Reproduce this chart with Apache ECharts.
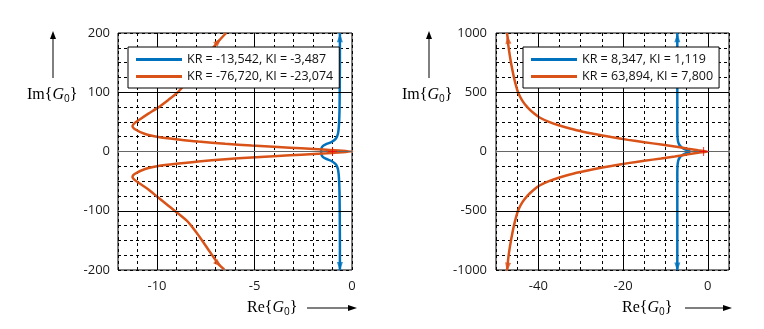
<!DOCTYPE html>
<html>
<head>
<meta charset="utf-8">
<script src="https://cdn.jsdelivr.net/npm/echarts@6/dist/echarts.min.js"></script>
<style>
  html, body { margin: 0; padding: 0; background: #fff; }
  #chart { width: 764px; height: 329px; }
</style>
</head>
<body>
<div id="chart"></div>
<script>
// ---- Nyquist curves of the open loop G0 for two controller settings per panel ----

// Left panel: negative gains
const leftBlueName = 'KR = -13,542, KI = -3,487';
const leftBlueRe = [-0.62, -0.62, -0.62, -0.63, -0.64, -0.66, -0.68, -0.72, -0.82, -1.05, -1.35, -1.50, -1.56, -1.58, -1.58,
                    -1.58, -1.56, -1.50, -1.35, -1.05, -0.82, -0.72, -0.68, -0.66, -0.64, -0.63, -0.62, -0.62, -0.62];
const leftBlueIm = [200, 192, 150, 100, 70, 50, 40, 30, 22, 16, 12, 9, 6, 3, 0,
                    -3, -6, -9, -12, -16, -22, -30, -40, -50, -70, -100, -150, -194, -200];

const leftOrangeName = 'KR = -76,720, KI = -23,074';
const leftOrangeRe = [-6.45, -6.85, -7.44, -7.95, -8.46, -8.90, -9.42, -9.95, -10.44, -10.85, -11.15, -11.26, -11.15, -10.61,
                      -9.93, -8.90, -7.88, -6.50, -5.15, -3.80, -2.60, -1.30, 0,
                      -1.30, -2.60, -3.80, -5.15, -6.50, -7.88, -8.90, -9.93, -10.61, -11.15, -11.26, -11.15, -10.85,
                      -10.44, -10.00, -9.40, -8.46, -7.95, -7.44, -6.85, -6.55];
const leftOrangeIm = [200, 186, 162, 140, 118, 101, 87, 74, 64, 55, 48, 43, 38, 29.5,
                      24.5, 20.3, 16.8, 13.2, 10, 7.5, 5.3, 2.8, 0,
                      -2.8, -5.3, -7.5, -10, -13.2, -16.8, -20.3, -24.5, -29.5, -38, -43, -48, -55,
                      -64, -76, -92, -117, -138, -162, -190, -199];

// Right panel: positive gains
const rightBlueName = 'KR = 8,347, KI = 1,119';
const rightBlueRe = [-7.2, -7.2, -7.2, -7.2, -7.2, -7.2, -7.15, -7.0, -6.7, -6.2, -5.5, -4.8, -4.3, -4.2,
                     -4.3, -4.8, -5.5, -6.2, -6.7, -7.0, -7.15, -7.2, -7.2, -7.2, -7.2, -7.2, -7.2];
const rightBlueIm = [1000, 960, 800, 600, 400, 200, 120, 80, 55, 35, 20, 10, 4, 0,
                     -4, -10, -20, -35, -55, -80, -120, -200, -400, -600, -800, -975, -1000];

const rightOrangeName = 'KR = 63,894, KI = 7,800';
const rightOrangeRe = [-47.4, -47.2, -47.1, -46.7, -46.2, -45.6, -44.8, -43.8, -42.5, -41.0, -39.6, -37.5, -35.0, -31.0,
                       -27.0, -22.8, -18.8, -15.0, -11.0, -7.8, -4.7, -2.3, 0,
                       -2.3, -4.7, -7.8, -11.0, -15.0, -18.8, -22.8, -27.0, -31.0, -35.0, -37.5, -39.6, -41.0, -42.5,
                       -43.8, -44.8, -45.6, -46.2, -46.7, -47.1, -47.3, -47.4];
const rightOrangeIm = [1000, 945, 900, 800, 700, 600, 500, 430, 370, 320, 285, 250, 220, 180,
                       150, 122, 98, 78, 59, 42, 24, 11, 0,
                       -11, -24, -42, -59, -78, -98, -122, -150, -180, -220, -250, -285, -320, -370,
                       -430, -500, -600, -700, -800, -900, -975, -1000];

// Critical point
const criticalPoint = [-1, 0];

// Axis ranges and labelled ticks
const leftXRange = [-12, 0];     const leftXLabels = [-10, -5, 0];
const leftYRange = [-200, 200];  const leftYLabels = [-200, -100, 0, 100, 200];
const rightXRange = [-50, 5];    const rightXLabels = [-40, -20, 0];
const rightYRange = [-1000, 1000]; const rightYLabels = [-1000, -500, 0, 500, 1000];
// Solid major grid lines
const leftMajorX = [-10, -5];    const leftMajorY = [-100, 100];
const rightMajorX = [-40, -20, 0]; const rightMajorY = [-500, 500];

// Direction arrows: point index on the curve and the neighbour it points to
const arrowMarks = [
  { curve: 'lo', at: 1, to: 0 }, { curve: 'lo', at: 42, to: 43 },
  { curve: 'lb', at: 1, to: 0 }, { curve: 'lb', at: 27, to: 28 },
  { curve: 'ro', at: 1, to: 0 }, { curve: 'ro', at: 43, to: 44 },
  { curve: 'rb', at: 1, to: 0 }, { curve: 'rb', at: 25, to: 26 }
];

const BLUE = '#0072BD';
const ORANGE = '#D95319';
const FONT = 'Open Sans';

const zip = (re, im) => re.map((v, i) => [v, im[i]]);
const curves = {
  lb: { pts: zip(leftBlueRe, leftBlueIm), grid: 0, color: BLUE },
  lo: { pts: zip(leftOrangeRe, leftOrangeIm), grid: 0, color: ORANGE },
  rb: { pts: zip(rightBlueRe, rightBlueIm), grid: 1, color: BLUE },
  ro: { pts: zip(rightOrangeRe, rightOrangeIm), grid: 1, color: ORANGE }
};

const dashed = { show: true, lineStyle: { color: '#000', width: 1, type: [3, 3] } };
const labelStyle = { color: '#1a1a1a', fontFamily: FONT, fontSize: 13 };

function valueAxis(gridIndex, range, step, labels, margin) {
  return {
    type: 'value', gridIndex, min: range[0], max: range[1], interval: step,
    axisLine: { show: false }, axisTick: { show: false },
    splitLine: dashed,
    axisLabel: Object.assign({ margin, formatter: v => labels.includes(v) ? String(v) : '' }, labelStyle)
  };
}

function majorLines(gridIndex, xs, ys) {
  return {
    type: 'line', xAxisIndex: gridIndex, yAxisIndex: gridIndex, data: [], z: 1, silent: true,
    markLine: {
      silent: true, symbol: 'none', label: { show: false },
      lineStyle: { color: '#000', width: 1, type: 'solid' },
      animation: false,
      data: xs.map(v => ({ xAxis: v })).concat(ys.map(v => ({ yAxis: v })))
        .concat([{ yAxis: 0, lineStyle: { color: '#666', width: 1, type: 'solid' } }])
    }
  };
}

function curveSeries(name, key) {
  const c = curves[key];
  return {
    name, type: 'line', xAxisIndex: c.grid, yAxisIndex: c.grid, data: c.pts,
    showSymbol: false, symbol: 'none', smooth: 0.25, z: key[1] === 'o' ? 4 : 3,
    lineStyle: { color: c.color, width: 2.5 }, itemStyle: { color: c.color }
  };
}

function critical(gridIndex) {
  return {
    type: 'scatter', xAxisIndex: gridIndex, yAxisIndex: gridIndex, data: [criticalPoint], z: 5, silent: true,
    symbol: 'path://M5,0 L5,10 M0,5 L10,5', symbolSize: 9,
    itemStyle: { color: 'none', borderColor: '#ff0000', borderWidth: 1 }
  };
}

function legendBox(left, names) {
  return {
    left, top: 47, orient: 'vertical', data: names,
    icon: 'rect', itemWidth: 46, itemHeight: 3, itemGap: 4,
    padding: [6, 6, 5, 8], backgroundColor: '#fff', borderColor: '#000', borderWidth: 1, borderRadius: 0,
    textStyle: { color: '#111', fontFamily: FONT, fontSize: 12.5 },
    selectedMode: false, z: 10
  };
}

// Axis titles (Im{G0}, Re{G0}) with arrows
function titleText(x, y, word) {
  return {
    type: 'text', x, y, z: 10,
    style: {
      text: word + '{{g|G}{s|0}}',
      font: '16px "Liberation Serif"', fill: '#000',
      verticalAlign: 'middle', align: 'left',
      rich: {
        g: { fontFamily: 'Liberation Serif', fontStyle: 'italic', fontSize: 16, fill: '#000' },
        s: { fontFamily: FONT, fontSize: 10, fill: '#000', padding: [9, 0, 0, 0] }
      }
    }
  };
}
function arrowUp(x, yTop, yBottom) {
  return [
    { type: 'line', shape: { x1: x, y1: yBottom, x2: x, y2: yTop + 6 }, style: { stroke: '#000', lineWidth: 1 } },
    { type: 'polygon', shape: { points: [[x - 3, yTop + 8], [x + 3, yTop + 8], [x, yTop]] }, style: { fill: '#000' } }
  ];
}
function arrowRight(y, xLeft, xRight) {
  return [
    { type: 'line', shape: { x1: xLeft, y1: y, x2: xRight - 6, y2: y }, style: { stroke: '#000', lineWidth: 1 } },
    { type: 'polygon', shape: { points: [[xRight - 9, y - 3], [xRight - 9, y + 3], [xRight, y]] }, style: { fill: '#000' } }
  ];
}

const chart = echarts.init(document.getElementById('chart'), null, { renderer: 'canvas' });

const option = {
  animation: false,
  backgroundColor: '#fff',
  grid: [
    { left: 118, top: 33, width: 234, height: 237, show: true, borderColor: '#000', borderWidth: 1, backgroundColor: 'transparent' },
    { left: 496, top: 33, width: 233, height: 237, show: true, borderColor: '#000', borderWidth: 1, backgroundColor: 'transparent' }
  ],
  xAxis: [
    valueAxis(0, leftXRange, 1, leftXLabels, 10),
    valueAxis(1, rightXRange, 5, rightXLabels, 10)
  ],
  yAxis: [
    valueAxis(0, leftYRange, 25, leftYLabels, 8),
    valueAxis(1, rightYRange, 125, rightYLabels, 9)
  ],
  legend: [legendBox(128, [leftBlueName, leftOrangeName]), legendBox(523, [rightBlueName, rightOrangeName])],
  series: [
    majorLines(0, leftMajorX, leftMajorY),
    majorLines(1, rightMajorX, rightMajorY),
    curveSeries(leftBlueName, 'lb'),
    curveSeries(leftOrangeName, 'lo'),
    curveSeries(rightBlueName, 'rb'),
    curveSeries(rightOrangeName, 'ro'),
    critical(0),
    critical(1)
  ],
  graphic: [
    titleText(27, 95, 'Im'),
    titleText(247, 308, 'Re'),
    titleText(402, 95, 'Im'),
    titleText(622, 308, 'Re')
  ].concat(arrowUp(53, 31, 78), arrowRight(308, 307, 357), arrowUp(429, 31, 78), arrowRight(308, 685, 732))
};

chart.setOption(option);

// Arrow heads oriented along the curve, computed in pixel space
const arrowData = { 0: [], 1: [] };
arrowMarks.forEach(a => {
  const c = curves[a.curve];
  const p = chart.convertToPixel({ gridIndex: c.grid }, c.pts[a.at]);
  const q = chart.convertToPixel({ gridIndex: c.grid }, c.pts[a.to]);
  const ang = Math.atan2(-(q[1] - p[1]), q[0] - p[0]) * 180 / Math.PI;
  arrowData[c.grid].push({ value: c.pts[a.at], symbolRotate: ang - 90, itemStyle: { color: c.color } });
});
chart.setOption({
  series: option.series.concat([0, 1].map(g => ({
    type: 'scatter', xAxisIndex: g, yAxisIndex: g, data: arrowData[g], z: 6, silent: true,
    symbol: 'triangle', symbolSize: [6, 9], clip: false
  })))
});
</script>
</body>
</html>
